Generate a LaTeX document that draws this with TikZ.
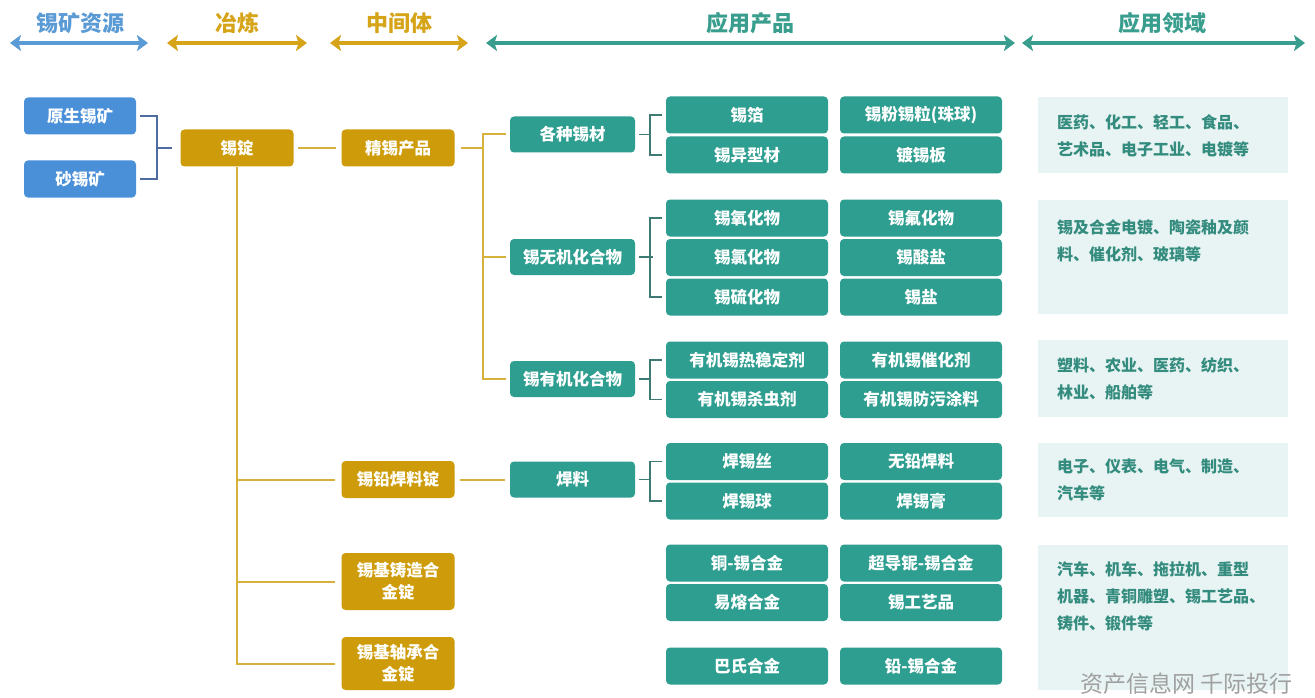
\documentclass[tikz,border=0pt]{standalone}
\usepackage{fontspec}
\setmainfont{Noto Sans CJK SC}
\usetikzlibrary{arrows.meta}
\definecolor{blueBox}{RGB}{74,144,217}
\definecolor{blueHead}{RGB}{91,155,213}
\definecolor{blueLine}{RGB}{78,108,160}
\definecolor{goldBox}{RGB}{206,156,10}
\definecolor{goldLine}{RGB}{216,176,60}
\definecolor{goldHead}{RGB}{214,164,24}
\definecolor{tealBox}{RGB}{46,158,144}
\definecolor{tealLine}{RGB}{62,122,116}
\definecolor{tealHead}{RGB}{58,158,142}
\definecolor{domFill}{RGB}{232,244,244}
\definecolor{domText}{RGB}{52,140,126}
\definecolor{wmGray}{RGB}{160,160,160}
\begin{document}
\begin{tikzpicture}[x=1pt,y=-1pt,
  box/.style={rectangle, rounded corners=4pt, text=white, font=\bfseries\fontsize{16.5}{22}\selectfont, inner sep=0pt, align=center},
  bluebox/.style={box, fill=blueBox, minimum width=112pt, minimum height=37pt},
  goldbox/.style={box, fill=goldBox, minimum width=113pt, minimum height=37pt},
  lvbox/.style={box, fill=tealBox, minimum width=125pt, minimum height=36pt},
  pbox/.style={box, fill=tealBox, minimum width=162pt, minimum height=37pt},
  dombox/.style={rectangle, fill=domFill, minimum width=250pt, inner sep=0pt},
  domtext/.style={text=domText, font=\bfseries\fontsize{16}{27}\selectfont, align=left, anchor=north west, inner sep=0pt},
  hd/.style={font=\bfseries\fontsize{22}{24}\selectfont, inner sep=0pt},
  harrow/.style={line width=4pt, {Stealth[length=11pt,width=16pt,inset=2.5pt]}-{Stealth[length=11pt,width=16pt,inset=2.5pt]}},
  gl/.style={draw=goldLine, line width=2pt},
  bl/.style={draw=blueLine, line width=2pt},
  tl/.style={draw=tealLine, line width=1.8pt},
]
\useasboundingbox[fill=white] (0,0) rectangle (1315,698);

% header
\node[hd, text=blueHead] (h1) at (80,23) {锡矿资源};
\node[hd, text=goldHead] (h2) at (237,23) {冶炼};
\node[hd, text=goldHead] (h3) at (399,23) {中间体};
\node[hd, text=tealHead] (h4) at (750,23) {应用产品};
\node[hd, text=tealHead] (h5) at (1162,23) {应用领域};
\coordinate (a1l) at (10,43); \coordinate (a1r) at (148,43);
\coordinate (a2l) at (167,43); \coordinate (a2r) at (307,43);
\coordinate (a3l) at (330,43); \coordinate (a3r) at (468,43);
\coordinate (a4l) at (486,43); \coordinate (a4r) at (1015,43);
\coordinate (a5l) at (1022,43); \coordinate (a5r) at (1305,43);
\draw[harrow, blueHead] (a1l) -- (a1r);
\draw[harrow, goldHead] (a2l) -- (a2r);
\draw[harrow, goldHead] (a3l) -- (a3r);
\draw[harrow, tealHead] (a4l) -- (a4r);
\draw[harrow, tealHead] (a5l) -- (a5r);

% ore
\node[bluebox] (ys) at (80,116) {原生锡矿};
\node[bluebox] (sx) at (80,179) {砂锡矿};
\node[goldbox] (xd) at (237,148) {锡锭};
\coordinate (bb) at (157,148);
\draw[bl] ([xshift=4pt]ys.east) -| (bb) |- ([xshift=4pt]sx.east);
\draw[bl] (bb) -- ([xshift=-8pt]xd.west);

% intermediates
\node[goldbox] (jx) at (398,148) {精锡产品};
\node[goldbox] (qh) at (398,479.5) {锡铅焊料锭};
\node[goldbox, minimum height=57pt] (zz) at (398,581.5) {锡基铸造合\\金锭};
\node[goldbox, minimum height=53pt] (zc) at (398,663.5) {锡基轴承合\\金锭};
\draw[gl] ([xshift=4pt]xd.east) -- ([xshift=-5pt]jx.west);
\draw[gl] (xd.south) -- (xd.south |- zc.west) -- ([xshift=-6pt]zc.west);
\draw[gl] (xd.south |- qh.west) -- ([xshift=-6pt]qh.west);
\draw[gl] (xd.south |- zz.west) -- ([xshift=-6pt]zz.west);

% level 3
\node[lvbox] (gz) at (572.5,134.5) {各种锡材};
\node[lvbox] (wj) at (572.5,257) {锡无机化合物};
\node[lvbox] (yj) at (572.5,379) {锡有机化合物};
\node[lvbox] (hl) at (572.5,479.5) {焊料};
\coordinate (tr) at (483,148);
\draw[gl] ([xshift=6pt]jx.east) -- (jx.east -| tr);
\draw[gl] ([xshift=-4pt]gz.west) -- (gz.west -| tr) -- (yj.west -| tr) -- ([xshift=-4pt]yj.west);
\draw[gl] (wj.west -| tr) -- ([xshift=-4pt]wj.west);
\draw[gl] ([xshift=5pt]qh.east) -- ([xshift=-5pt]hl.west);

% products
\node[pbox] (p1) at (747,115) {锡箔};
\node[pbox] (q1) at (921,115) {锡粉锡粒(珠球)};
\node[pbox] (p2) at (747,155) {锡异型材};
\node[pbox] (q2) at (921,155) {镀锡板};
\node[pbox] (p3) at (747,218) {锡氧化物};
\node[pbox] (q3) at (921,218) {锡氟化物};
\node[pbox] (p4) at (747,257.5) {锡氯化物};
\node[pbox] (q4) at (921,257.5) {锡酸盐};
\node[pbox] (p5) at (747,297) {锡硫化物};
\node[pbox] (q5) at (921,297) {锡盐};
\node[pbox] (p6) at (747,360) {有机锡热稳定剂};
\node[pbox] (q6) at (921,360) {有机锡催化剂};
\node[pbox] (p7) at (747,399.5) {有机锡杀虫剂};
\node[pbox] (q7) at (921,399.5) {有机锡防污涂料};
\node[pbox] (p8) at (747,461.5) {焊锡丝};
\node[pbox] (q8) at (921,461.5) {无铅焊料};
\node[pbox] (p9) at (747,501) {焊锡球};
\node[pbox] (q9) at (921,501) {焊锡膏};
\node[pbox] (p10) at (747,563) {铜-锡合金};
\node[pbox] (q10) at (921,563) {超导铌-锡合金};
\node[pbox] (p11) at (747,602.5) {易熔合金};
\node[pbox] (q11) at (921,602.5) {锡工艺品};
\node[pbox] (p12) at (747,666) {巴氏合金};
\node[pbox] (q12) at (921,666) {铅-锡合金};

% small brackets
\draw[tl] ([xshift=-4pt]p1.west) -- ++(-12,0) |- ([xshift=-4pt]p2.west);
\draw[tl] ([xshift=4pt]gz.east) -- ++(10,0);
\draw[tl] ([xshift=-4pt]p3.west) -- ++(-12,0) |- ([xshift=-4pt]p5.west);
\draw[tl] ([xshift=4pt]wj.east) -- ++(14,0);
\draw[tl] ([xshift=-4pt]p6.west) -- ++(-12,0) |- ([xshift=-4pt]p7.west);
\draw[tl] ([xshift=4pt]yj.east) -- ++(10,0);
\draw[tl] ([xshift=-4pt]p8.west) -- ++(-12,0) |- ([xshift=-4pt]p9.west);
\draw[tl] ([xshift=4pt]hl.east) -- ++(10,0);

% domains
\node[dombox, minimum height=76pt] (d1) at (1163,135) {};
\node[dombox, minimum height=114pt] (d2) at (1163,257) {};
\node[dombox, minimum height=77pt] (d3) at (1163,378.5) {};
\node[dombox, minimum height=74pt] (d4) at (1163,480) {};
\node[dombox, minimum height=145pt] (d5) at (1163,617.5) {};
\node[domtext] (t1) at (1057,114) {医药、化工、轻工、食品、\\艺术品、电子工业、电镀等};
\node[domtext] (t2) at (1057,219) {锡及合金电镀、陶瓷釉及颜\\料、催化剂、玻璃等};
\node[domtext] (t3) at (1057,357) {塑料、农业、医药、纺织、\\林业、船舶等};
\node[domtext] (t4) at (1057,459) {电子、仪表、电气、制造、\\汽车等};
\node[domtext] (t5) at (1057,561) {汽车、机车、拖拉机、重型\\机器、青铜雕塑、锡工艺品、\\铸件、锻件等};

% watermark
\node[anchor=base west, inner sep=0pt, text=wmGray, font=\fontsize{23}{25}\selectfont] (wm) at (1080,692) {资产信息网\ 千际投行};
\end{tikzpicture}
\end{document}
